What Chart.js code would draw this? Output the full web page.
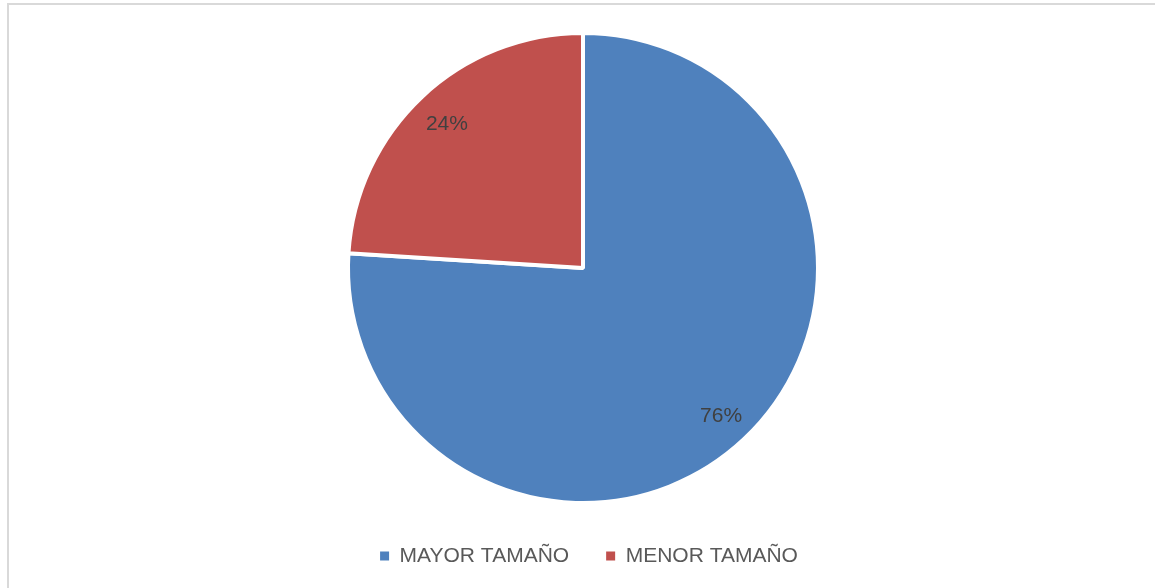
<!DOCTYPE html>
<html>
<head>
<meta charset="utf-8">
<script src="https://cdn.jsdelivr.net/npm/chart.js@4"></script>
<style>
  html, body { margin:0; padding:0; background:#fff; overflow:hidden; }
  #wrap { position:relative; width:1155px; height:588px; }
  #frame { position:absolute; left:7px; top:3px; width:1200px; height:640px;
           border-left:2px solid #d9d9d9; border-top:2px solid #d9d9d9; box-sizing:border-box; }
  canvas { position:absolute; left:0; top:0; }
</style>
</head>
<body>
<div id="wrap">
  <div id="frame"></div>
  <canvas id="pie" width="1155" height="588"></canvas>
</div>
<script>
// pie data
const categories = ['MAYOR TAMAÑO', 'MENOR TAMAÑO'];
const shares = [76, 24];
const sliceColors = ['#4F81BD', '#C0504D'];

const FONT = '"Liberation Sans", Arial, sans-serif';

// percent labels inside each slice, roughly where the office "best fit" puts them
const sliceLabels = {
  id: 'sliceLabels',
  afterDatasetsDraw(chart){
    const ctx = chart.ctx;
    const meta = chart.getDatasetMeta(0);
    const total = shares.reduce((a, b) => a + b, 0);
    ctx.save();
    ctx.font = '21px ' + FONT;
    ctx.fillStyle = '#404040';
    ctx.textAlign = 'center';
    ctx.textBaseline = 'middle';
    meta.data.forEach((arc, i) => {
      const p = arc.getProps(['x','y','startAngle','endAngle','outerRadius'], true);
      const mid = (p.startAngle + p.endAngle) / 2;
      const r = p.outerRadius * 0.852;
      const txt = Math.round(shares[i] / total * 100) + '%';
      ctx.fillText(txt, p.x + Math.cos(mid) * r + 1, p.y + Math.sin(mid) * r + 2);
    });
    ctx.restore();
  }
};

// the office legend sits a few px right of the pie's centre line
const nudgeLegend = {
  id: 'nudgeLegend',
  afterLayout(chart){
    if(chart.legend){ chart.legend.left += 6; chart.legend.right += 6; }
  }
};

new Chart(document.getElementById('pie'), {
  type: 'pie',
  data: {
    labels: categories,
    datasets: [{
      data: shares,
      backgroundColor: sliceColors,
      borderColor: '#ffffff',
      borderWidth: 4,
      radius: 235
    }]
  },
  options: {
    responsive: false,
    animation: false,
    events: [],
    layout: { padding: { top: 27.5, left: 11, right: 0, bottom: 11.5 } },
    plugins: {
      tooltip: { enabled: false },
      legend: {
        position: 'bottom',
        labels: {
          color: '#595959',
          font: { family: FONT, size: 21 },
          boxWidth: 9,
          boxHeight: 9,
          padding: 37,
          generateLabels(chart){
            const items = Chart.overrides.pie.plugins.legend.labels.generateLabels(chart);
            items.forEach(it => { it.lineWidth = 0; it.strokeStyle = it.fillStyle; });
            return items;
          }
        }
      }
    }
  },
  plugins: [sliceLabels, nudgeLegend]
});
</script>
</body>
</html>
